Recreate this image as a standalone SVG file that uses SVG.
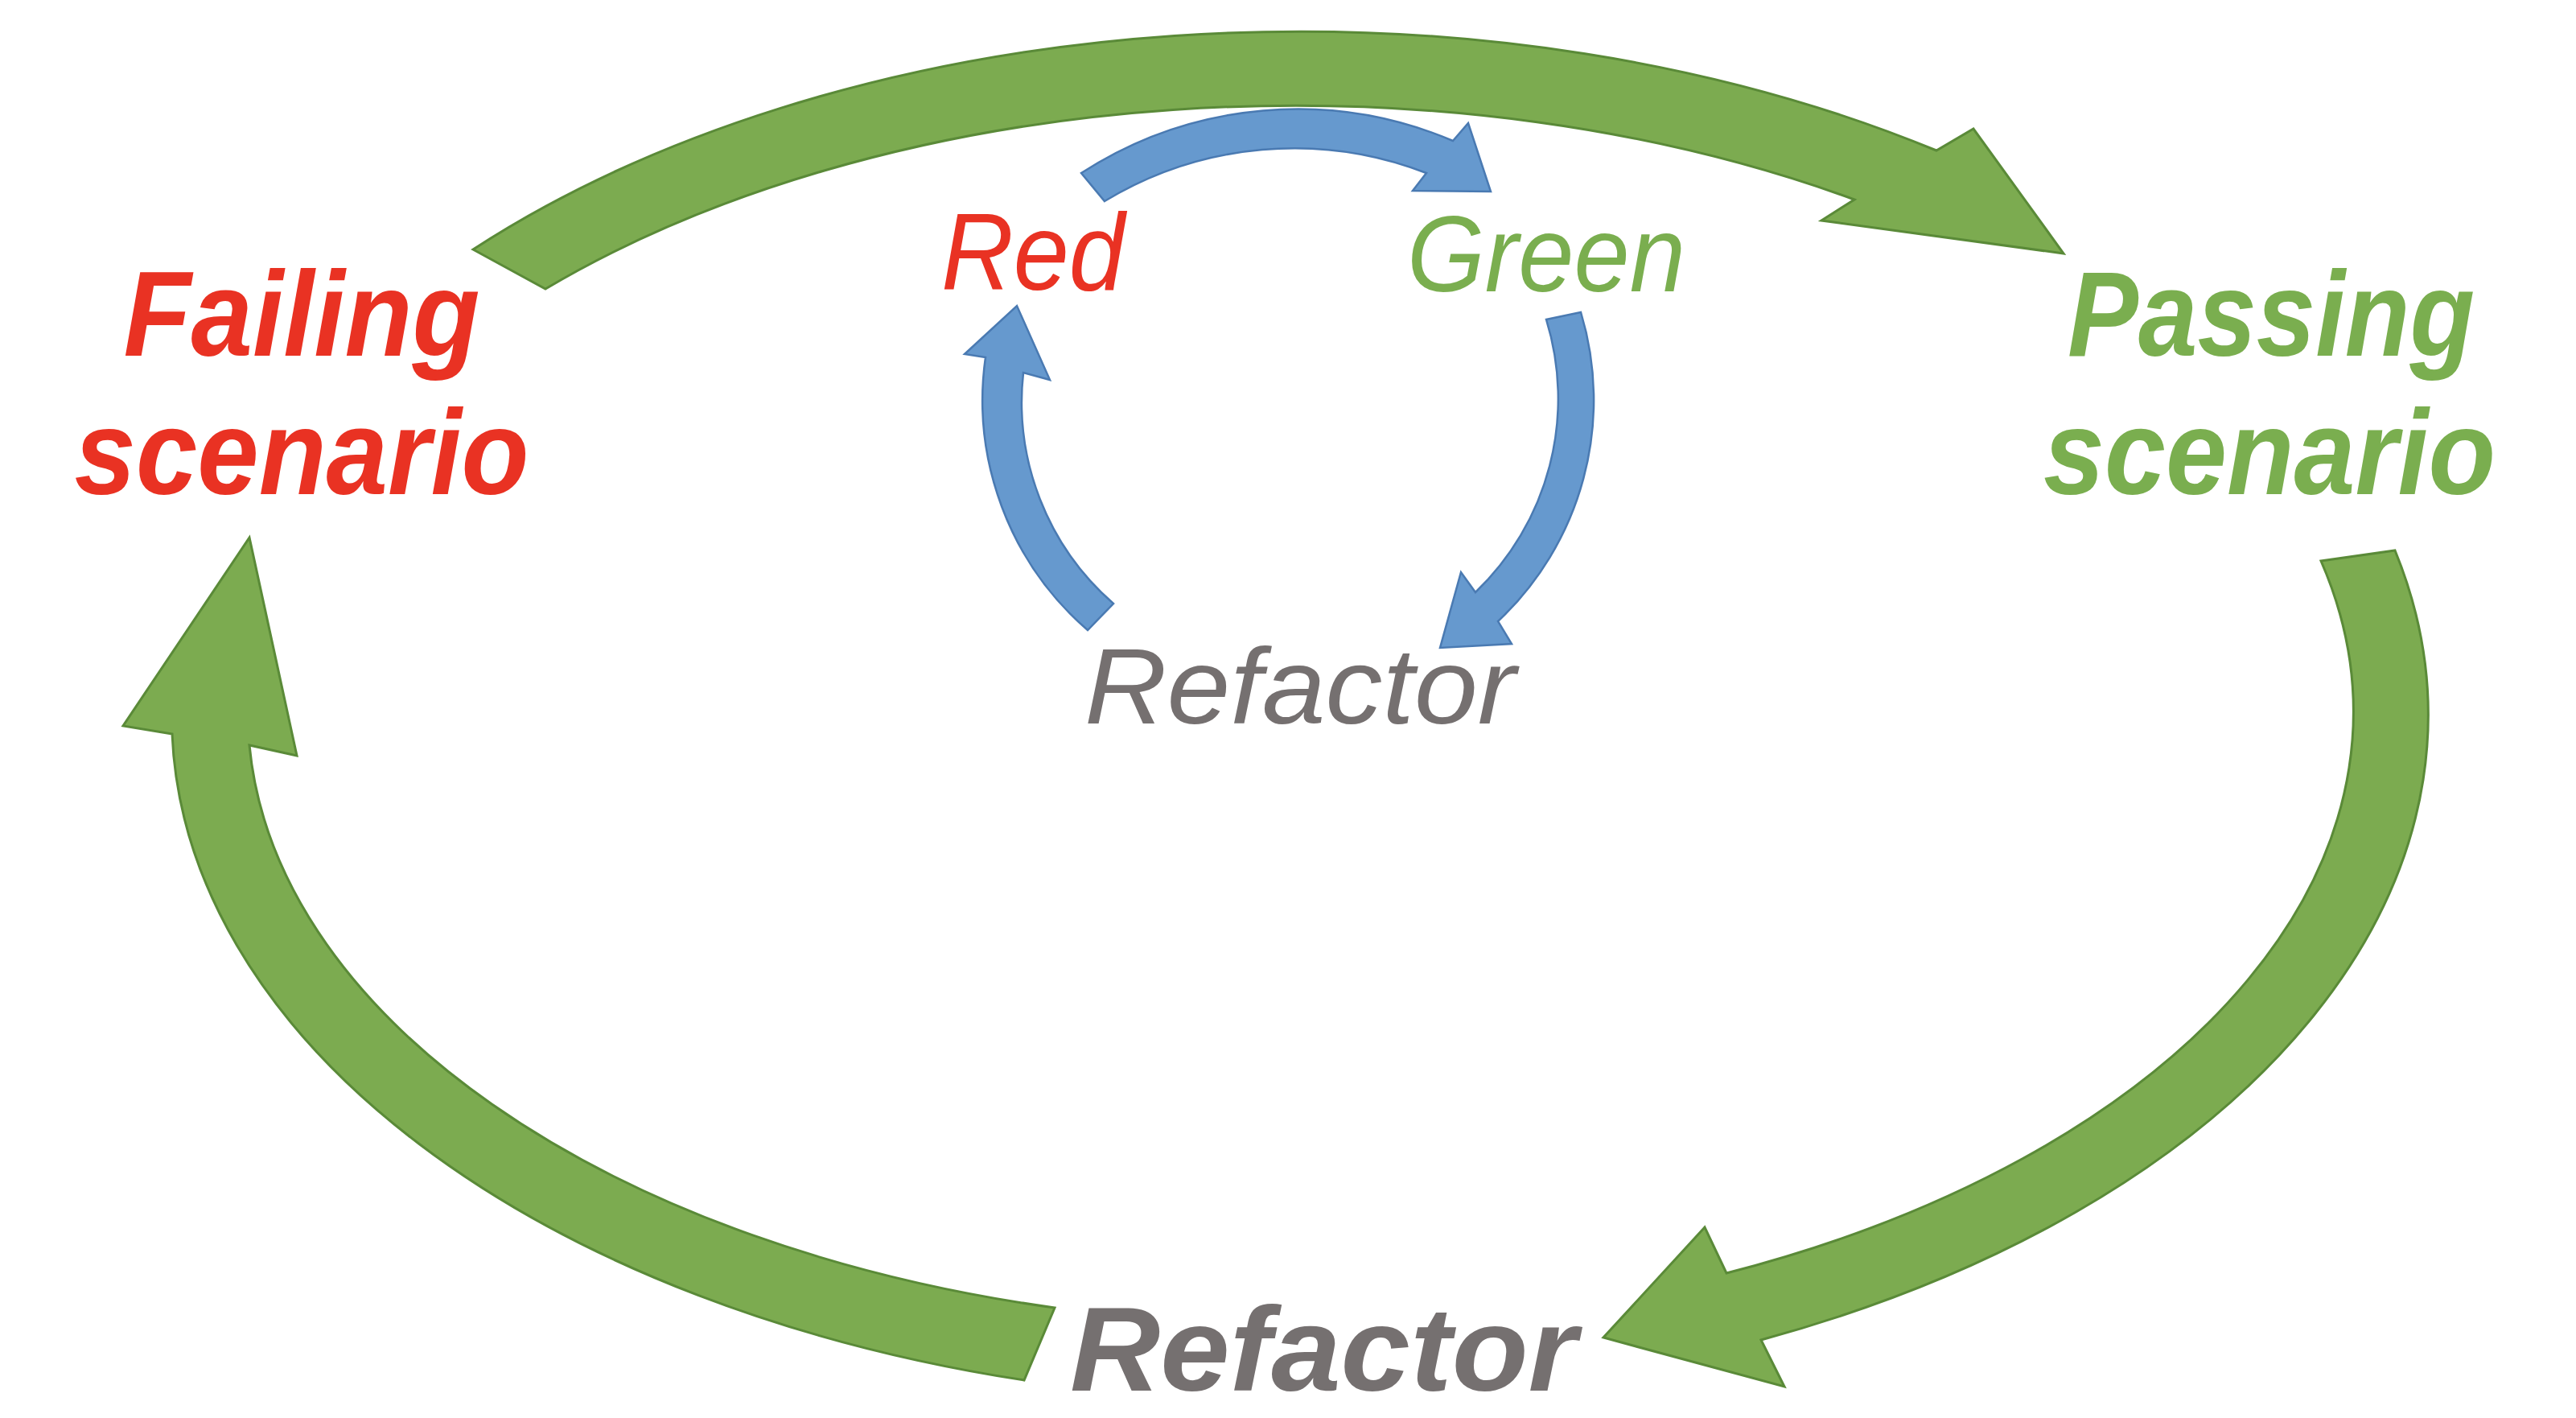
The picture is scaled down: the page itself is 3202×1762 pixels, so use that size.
<svg xmlns="http://www.w3.org/2000/svg" width="3202" height="1762" viewBox="0 0 3202 1762">
  <style>
    .big { fill: #7CAB50; stroke: #5A8A38; stroke-width: 3; stroke-linejoin: miter; }
    .small { fill: #6699CE; stroke: #4A7AB2; stroke-width: 2.5; stroke-linejoin: miter; }
    .lbl { font-family: "Liberation Sans", Arial, sans-serif; font-style: italic; text-anchor: middle; }
    .bold { font-weight: bold; }
    .red { fill: #E93223; }
    .grn { fill: #7AAE4F; }
    .gry { fill: #757070; }
  </style>
  <rect x="0" y="0" width="3202" height="1762" fill="#FFFFFF"/>
  <g id="connectors">
    <path id="outer-top" class="big" d="M 588 310 A 1405 851 0 0 1 2407 187 L 2453 160 L 2565 315 L 2264 274 L 2305 248 A 1307 762 0 0 0 678 359 Z"/>
    <path id="outer-right" class="big" d="M 2977 684 A 1405 851 0 0 1 2189 1665 L 2218 1723 L 1993 1662 L 2119 1525 L 2146 1582 A 1307 762 0 0 0 2885 697 Z"/>
    <path id="outer-left" class="big" d="M 1273 1715 A 1405 851 0 0 1 214 912 L 153 902 L 310 668 L 369 939 L 310 926 A 1307 762 0 0 0 1311 1625 Z"/>
    <path id="inner-top" class="small" d="M 1344 215 A 494 494 0 0 1 1806 175 L 1825 153 L 1853 238 L 1756 237 L 1773 215 A 455 455 0 0 0 1373 250 Z"/>
    <path id="inner-right" class="small" d="M 1965 388 A 377 377 0 0 1 1862 772 L 1879 800 L 1790 805 L 1816 711 L 1834 736 A 333 333 0 0 0 1922 397 Z"/>
    <path id="inner-left" class="small" d="M 1352 783 A 378 378 0 0 1 1225 444 L 1199 440 L 1264 380 L 1305 472 L 1272 463 A 332 332 0 0 0 1384 750 Z"/>
  </g>
  <g id="failing-scenario">
    <text class="lbl bold red" x="375" y="442" font-size="150" textLength="443" lengthAdjust="spacingAndGlyphs">Failing</text>
    <text class="lbl bold red" x="375" y="614" font-size="150" textLength="565" lengthAdjust="spacingAndGlyphs">scenario</text>
  </g>
  <g id="passing-scenario">
    <text class="lbl bold grn" x="2823" y="442" font-size="150" textLength="506" lengthAdjust="spacingAndGlyphs">Passing</text>
    <text class="lbl bold grn" x="2821" y="614" font-size="150" textLength="562" lengthAdjust="spacingAndGlyphs">scenario</text>
  </g>
  <g id="refactor-outer">
    <text class="lbl bold gry" x="1645" y="1728" font-size="148" textLength="630" lengthAdjust="spacingAndGlyphs">Refactor</text>
  </g>
  <g id="red">
    <text class="lbl red" x="1284" y="360" font-size="136" textLength="228" lengthAdjust="spacingAndGlyphs">Red</text>
  </g>
  <g id="green">
    <text class="lbl grn" x="1922" y="362" font-size="133" textLength="346" lengthAdjust="spacingAndGlyphs">Green</text>
  </g>
  <g id="refactor-inner">
    <text class="lbl gry" x="1616" y="899" font-size="133" textLength="536" lengthAdjust="spacingAndGlyphs">Refactor</text>
  </g>
</svg>
